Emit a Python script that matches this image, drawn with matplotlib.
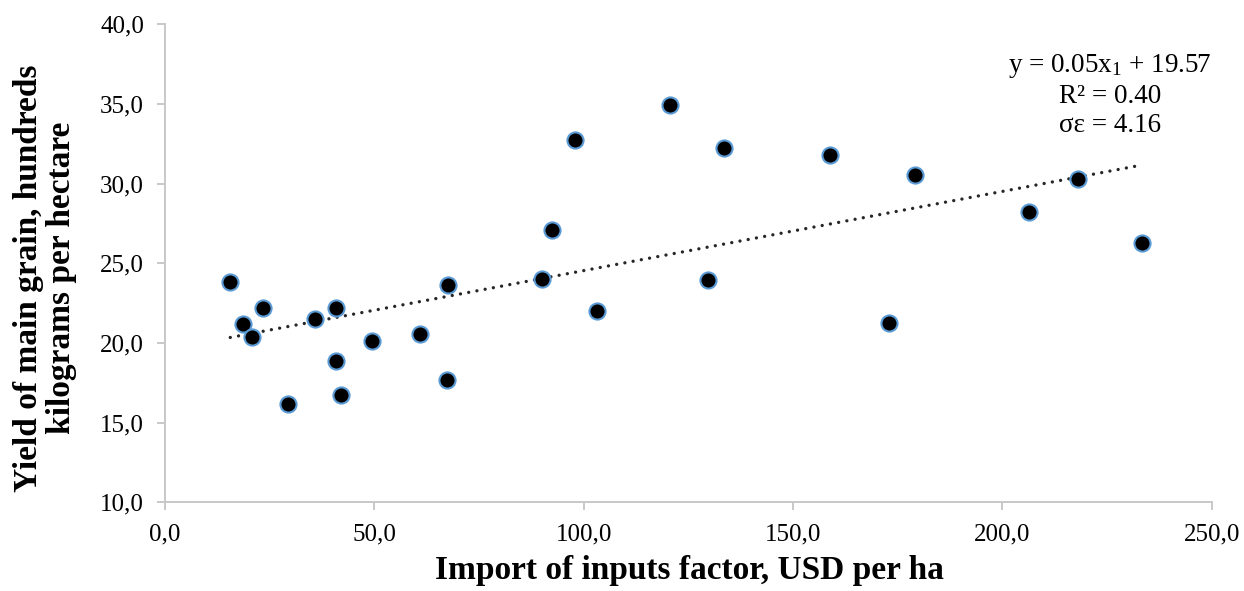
import matplotlib.pyplot as plt
import numpy as np

# import of inputs factor (USD per ha) and grain yield (100 kg per ha)
import_usd = [15.6, 18.7, 20.8, 23.5, 29.4, 35.8, 40.8, 40.8, 42.1, 49.4,
              60.9, 67.4, 67.6, 90.0, 92.4, 97.9, 103.2, 120.6, 129.7, 133.6,
              158.8, 173.0, 179.2, 206.4, 218.0, 233.4]
yield_grain = [23.83, 21.17, 20.38, 22.22, 16.20, 21.53, 22.20, 18.87, 16.74, 20.10,
               20.59, 17.66, 23.62, 24.00, 27.09, 32.71, 21.99, 34.94, 23.94, 32.22,
               31.78, 21.26, 30.55, 28.19, 30.32, 26.30]

# trend line
slope = 0.0497
intercept = 19.57

x_ticks = [0, 50, 100, 150, 200, 250]
y_ticks = [10, 15, 20, 25, 30, 35, 40]

plt.rcParams['font.family'] = ['Liberation Serif', 'DejaVu Serif']
plt.rcParams['mathtext.fontset'] = 'custom'
plt.rcParams['mathtext.rm'] = 'Liberation Serif'
plt.rcParams['mathtext.it'] = 'Liberation Serif:italic'

fig = plt.figure(figsize=(12.44, 5.91), dpi=100)
ax = fig.add_axes([0.1326, 0.150, 0.974 - 0.1326, 0.959 - 0.150])

xs = np.array([min(import_usd), max(import_usd)])
ax.plot(xs, slope * xs + intercept, color='#262626', lw=2.4,
        linestyle=(0, (0.01, 2.5)), dash_capstyle='round', zorder=3)

ax.scatter(import_usd, yield_grain, s=135, color='black',
           edgecolors='#5B9BD5', linewidths=1.5, zorder=4)

ax.set_xlim(0, 250)
ax.set_ylim(10, 40)
ax.set_xticks(x_ticks)
ax.set_yticks(y_ticks)
ax.set_xticklabels([f"{v:.1f}".replace('.', ',') for v in x_ticks])
ax.set_yticklabels([f"{v:.1f}".replace('.', ',') for v in y_ticks])

for s in ['top', 'right']:
    ax.spines[s].set_visible(False)
for s in ['left', 'bottom']:
    ax.spines[s].set_color('#C8C8C8')
    ax.spines[s].set_linewidth(1.4)
ax.tick_params(axis='both', direction='out', color='#C8C8C8', width=1.4,
               length=6, labelsize=18)
ax.tick_params(axis='y', pad=9)
ax.tick_params(axis='x', pad=9)

fig.text(689 / 1244, 1 - 570 / 591, 'Import of inputs factor, USD per ha',
         ha='center', va='center', fontsize=24, fontweight='bold')
fig.text(45 / 1244, 1 - 278 / 591, 'Yield of main grain, hundreds\nkilograms per hectare',
         rotation=90, ha='center', va='center', fontsize=24,
         fontweight='bold', linespacing=1.1)

fig.text(1110 / 1244, 1 - 95 / 591,
         'y = 0.05x$_\\mathregular{1}$ + 19.57\nR² = 0.40\nσε = 4.16',
         ha='center', va='center', fontsize=19.5,
         multialignment='center', linespacing=1.2)

fig.savefig('out.png', dpi=100)
